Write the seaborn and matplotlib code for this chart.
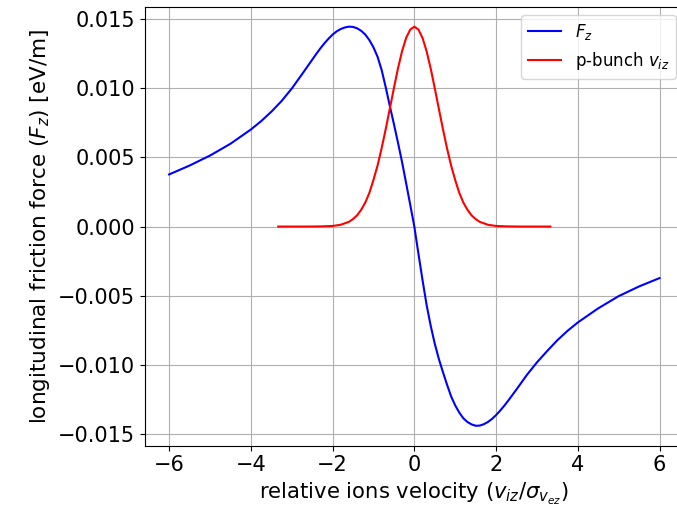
import matplotlib
matplotlib.use("Agg")
import matplotlib.pyplot as plt
import seaborn as sns
import pandas as pd

# Friction force F_z (blue)
fz_v = [-6.0, -5.5, -5.0, -4.5, -4.0, -3.75, -3.5, -3.25, -3.0, -2.75,
        -2.5, -2.4, -2.3, -2.2, -2.1, -2.0, -1.9, -1.8, -1.7, -1.6, -1.5,
        -1.4, -1.3, -1.2, -1.1, -1.0, -0.9, -0.8, -0.7, -0.6, -0.5, -0.4,
        -0.3, -0.2, -0.1, 0.0,
        0.1, 0.2, 0.3, 0.4, 0.5, 0.6, 0.7, 0.8, 0.9, 1.0, 1.1, 1.2, 1.3,
        1.4, 1.5, 1.6, 1.7, 1.8, 1.9, 2.0, 2.1, 2.2, 2.3, 2.4, 2.5, 2.75,
        3.0, 3.25, 3.5, 3.75, 4.0, 4.5, 5.0, 5.5, 6.0]
fz_val = [0.00376, 0.00440, 0.00512, 0.00597, 0.00700, 0.00760, 0.00828,
          0.00905, 0.00995, 0.01098, 0.01203, 0.01245, 0.01285, 0.01322,
          0.01355, 0.01385, 0.01408, 0.01425, 0.01436, 0.01442, 0.01440,
          0.01430, 0.01412, 0.01385, 0.01345, 0.01293, 0.01225, 0.01130,
          0.01005, 0.00870, 0.00740, 0.00605, 0.00465, 0.00312, 0.00157,
          0.00000,
          -0.00195, -0.00385, -0.00565, -0.00715, -0.00845, -0.00955,
          -0.01050, -0.01140, -0.01225, -0.01290, -0.01342, -0.01383,
          -0.01410, -0.01427, -0.01437, -0.01436, -0.01426, -0.01410,
          -0.01388, -0.01360, -0.01328, -0.01293, -0.01255, -0.01215,
          -0.01175, -0.01072, -0.00980, -0.00898, -0.00820, -0.00752,
          -0.00692, -0.00590, -0.00502, -0.00432, -0.00372]

# p-bunch velocity distribution (red)
pb_v = [-3.33, -2.6, -2.3, -2.0, -1.8, -1.6, -1.5, -1.4, -1.3, -1.2, -1.1,
        -1.0, -0.9, -0.8, -0.7, -0.6, -0.5, -0.4, -0.3, -0.2, -0.1, 0.0,
        0.1, 0.2, 0.3, 0.4, 0.5, 0.6, 0.7, 0.8, 0.9, 1.0, 1.1, 1.2, 1.3,
        1.4, 1.5, 1.6, 1.8, 2.0, 2.3, 2.6, 3.33]
pb_val = [0.0, 0.0, 0.00001, 0.00004, 0.00013, 0.00034, 0.00054, 0.00081,
          0.00121, 0.00173, 0.00243, 0.00336, 0.00440, 0.00565, 0.00703,
          0.00850, 0.00998, 0.01141, 0.01265, 0.01361, 0.01421, 0.01442,
          0.01421, 0.01361, 0.01265, 0.01141, 0.00998, 0.00850, 0.00703,
          0.00565, 0.00440, 0.00336, 0.00243, 0.00173, 0.00121, 0.00081,
          0.00054, 0.00034, 0.00013, 0.00004, 0.00001, 0.0, 0.0]

df_fz = pd.DataFrame({"v": fz_v, "F": fz_val})
df_pb = pd.DataFrame({"v": pb_v, "F": pb_val})

fig = plt.figure(figsize=(6.77, 5.07), dpi=100)
ax = fig.add_axes([0.2136, 0.1209, 0.7968, 0.8659])

sns.lineplot(data=df_fz, x="v", y="F", color="blue", linewidth=1.5,
             label="$F_z$", ax=ax, sort=False)
sns.lineplot(data=df_pb, x="v", y="F", color="red", linewidth=1.5,
             label="p-bunch $v_{iz}$", ax=ax, sort=False)

ax.grid(True, color="#b0b0b0", linewidth=0.8)
ax.tick_params(labelsize=15)
ax.set_xlabel(r"relative ions velocity ($v_{iz}/\sigma_{v_{ez}}$)", fontsize=15.2)
ax.set_ylabel(r"longitudinal friction force ($F_z$) [eV/m]", fontsize=15.5)
ax.legend(loc="upper right", fontsize=12)

fig.savefig("out.png", dpi=100)
